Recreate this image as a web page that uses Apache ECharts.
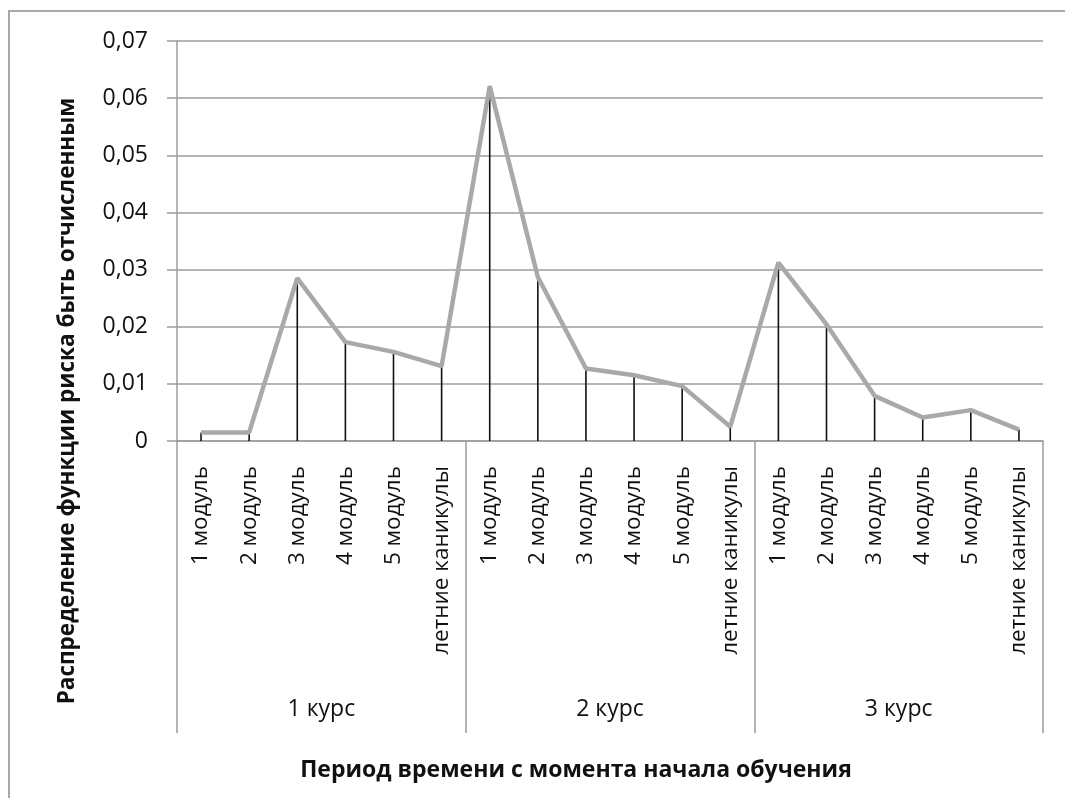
<!DOCTYPE html>
<html>
<head>
<meta charset="utf-8">
<script src="https://cdn.jsdelivr.net/npm/echarts@6/dist/echarts.min.js"></script>
<style>
  html, body { margin: 0; padding: 0; background: #fff; }
  #chart { width: 1065px; height: 798px; }
</style>
</head>
<body>
<div id="chart"></div>
<script>
// периоды внутри курса
const periods = [
  '1 модуль', '2 модуль', '3 модуль', '4 модуль', '5 модуль', 'летние каникулы',
  '1 модуль', '2 модуль', '3 модуль', '4 модуль', '5 модуль', 'летние каникулы',
  '1 модуль', '2 модуль', '3 модуль', '4 модуль', '5 модуль', 'летние каникулы'
];
const courses = ['1 курс', '2 курс', '3 курс'];
const hazard = [
  0.0015, 0.0015, 0.0285, 0.0173, 0.0156, 0.0131,
  0.0621, 0.0287, 0.0127, 0.0115, 0.0096, 0.0025,
  0.0312, 0.0204, 0.0079, 0.0041, 0.0054, 0.0020
];
const yTicks = [0, 0.01, 0.02, 0.03, 0.04, 0.05, 0.06, 0.07];

const font = '"Open Sans", "DejaVu Sans", sans-serif';
const gridColor = '#9c9c9c';

let chart = echarts.init(document.getElementById('chart'));

let option = {
  animation: false,
  backgroundColor: '#fff',
  grid: { left: 177, right: 22, top: 41, bottom: 357 },
  xAxis: [
    {
      type: 'category',
      data: periods,
      position: 'bottom',
      axisLine: { lineStyle: { color: gridColor, width: 1.5 } },
      axisTick: { show: false },
      axisLabel: {
        rotate: 90, interval: 0, margin: 25,
        fontFamily: font, fontSize: 22.5, color: '#111'
      }
    },
    {
      type: 'category',
      data: courses,
      position: 'bottom',
      axisLine: { show: false },
      axisTick: { show: true, length: 292, inside: false, lineStyle: { color: gridColor, width: 1.5 } },
      axisLabel: { margin: 257, fontFamily: font, fontSize: 23, color: '#111' }
    }
  ],
  yAxis: {
    type: 'value',
    min: yTicks[0],
    max: yTicks[yTicks.length - 1],
    interval: 0.01,
    axisLine: { show: true, lineStyle: { color: gridColor, width: 1.5 } },
    axisTick: { show: true, length: 10, lineStyle: { color: gridColor, width: 1.5 } },
    splitLine: { lineStyle: { color: gridColor, width: 1.5 } },
    axisLabel: {
      margin: 29, fontFamily: font, fontSize: 23, color: '#111',
      formatter: function (v) {
        return v === 0 ? '0' : v.toFixed(2).replace('.', ',');
      }
    }
  },
  graphic: [
    {
      type: 'rect', silent: true, z: -10,
      shape: { x: 9, y: 11, width: 1200, height: 900 },
      style: { fill: 'none', stroke: '#a8a8a8', lineWidth: 2 }
    },
    {
      type: 'text', x: 68, y: 401, rotation: Math.PI / 2,
      style: {
        text: 'Распределение функции риска быть отчисленным',
        fontFamily: font, fontWeight: 'bold', fontSize: 22.5, fill: '#111',
        align: 'center', verticalAlign: 'middle'
      }
    },
    {
      type: 'text', x: 576, y: 770,
      style: {
        text: 'Период времени с момента начала обучения',
        fontFamily: font, fontWeight: 'bold', fontSize: 23, fill: '#111',
        align: 'center', verticalAlign: 'middle'
      }
    }
  ],
  series: [
    {
      type: 'bar',
      data: hazard,
      barWidth: 1.6,
      silent: true,
      itemStyle: { color: '#111' },
      z: 2
    },
    {
      type: 'line',
      data: hazard,
      showSymbol: false,
      silent: true,
      lineStyle: { color: '#a9a9a9', width: 4.5 },
      z: 3
    }
  ]
};

chart.setOption(option);
window.addEventListener('resize', function () { chart.resize(); });
</script>
</body>
</html>
